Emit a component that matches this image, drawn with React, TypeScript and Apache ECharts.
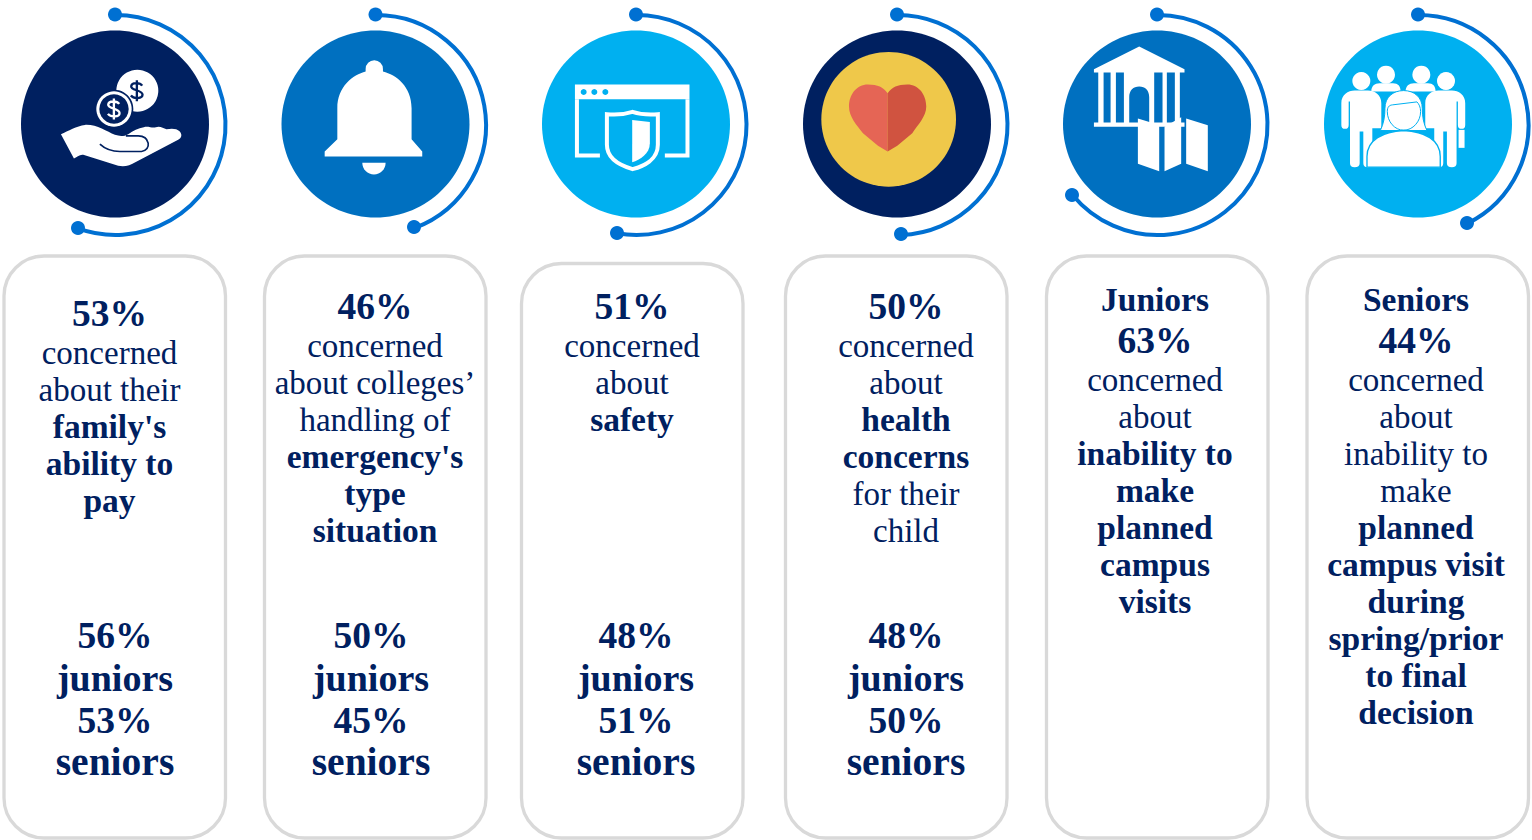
import React, { useEffect, useRef } from "react";
import * as echarts from "echarts";

// ---------- content ----------
const card1Lines = ["53%", "concerned", "about their", "family's", "ability to", "pay"];
const card2Lines = ["46%", "concerned", "about colleges’", "handling of", "emergency's", "type", "situation"];
const card3Lines = ["51%", "concerned", "about", "safety"];
const card4Lines = ["50%", "concerned", "about", "health", "concerns", "for their", "child"];
const card5Lines = ["Juniors", "63%", "concerned", "about", "inability to", "make", "planned", "campus", "visits"];
const card6Lines = ["Seniors", "44%", "concerned", "about", "inability to", "make", "planned", "campus visit", "during", "spring/prior", "to final", "decision"];

const card1Kinds = ["big", "reg", "reg", "bold", "bold", "bold"];
const card2Kinds = ["big", "reg", "reg", "reg", "bold", "bold", "bold"];
const card3Kinds = ["big", "reg", "reg", "bold"];
const card4Kinds = ["big", "reg", "reg", "bold", "bold", "reg", "reg"];
const card5Kinds = ["bold", "big", "reg", "reg", "bold", "bold", "bold", "bold", "bold"];
const card6Kinds = ["bold", "big", "reg", "reg", "reg", "reg", "bold", "bold", "bold", "bold", "bold", "bold"];

const juniorsPct = ["56%", "50%", "48%", "48%"];
const seniorsPct = ["53%", "45%", "51%", "50%"];
const juniorsLabel = "juniors";
const seniorsLabel = "seniors";

// ---------- layout ----------
const NAVY = "#002060";
const BLUE = "#0070C0";
const SKY = "#00B0F0";
const ARC = "#0070D2";
const GREY = "#D9D9D9";
const FONT = "'Liberation Serif', serif";

const circleX = [115, 375.5, 636, 897, 1157, 1418];
const circleFill = [NAVY, BLUE, SKY, NAVY, BLUE, SKY];
const CY = 124;
const endDots = [[78, 228], [414, 227], [617, 233], [901, 234], [1072, 195], [1467, 223]];

const cardLeft = [4, 264.5, 521.5, 785.5, 1046.5, 1307];
const cardTop = [256, 256, 263.5, 256, 256, 256];
const CARD_W = 221.5;
const CARD_BOTTOM = 838;

const textX = [109.5, 375, 632, 906, 1155, 1416];
const textStart = [314, 307, 307, 307, 300, 300];
const statX = [115, 371, 636, 906];

const allLines = [card1Lines, card2Lines, card3Lines, card4Lines, card5Lines, card6Lines];
const allKinds = [card1Kinds, card2Kinds, card3Kinds, card4Kinds, card5Kinds, card6Kinds];

const kindStyle: Record<string, { fontSize: number; fontWeight: string; dy: number }> = {
  big: { fontSize: 37.5, fontWeight: "bold", dy: -1 },
  reg: { fontSize: 33, fontWeight: "normal", dy: -0.5 },
  bold: { fontSize: 33.5, fontWeight: "bold", dy: -1 },
};

// ---------- icon outlines (drawn in 3x crop space, scaled by 1/3) ----------
const paths: Record<string, string> = {
  hand: "M183,403 C205,393 230,378 255,375 C290,373 320,395 345,405 C360,410 372,410 385,403 C400,393 415,384 432,382 C445,378 458,386 468,382 C480,377 490,385 500,388 C515,386 530,385 540,395 C548,405 545,414 535,420 L405,488 C390,497 375,502 355,498 L250,465 C240,463 230,472 222,476 Z",
  thumb: "M300,433 C315,447 335,455 360,455 L425,455 C440,453 447,442 445,430 C442,415 430,408 415,408 L378,408",
  dollarA: "M427,257 C420,247 396,247 394,259 C392,272 428,270 428,284 C428,297 402,298 393,287 M411,241 L411,304",
  dollarB: "M358,312 C351,302 327,302 325,314 C323,327 359,325 359,339 C359,352 333,353 324,342 M342,296 L342,359",
  bellBody: "M1098,215 C1060,225 1013,260 1013,325 L1013,418 L975,455 L975,470 L1268,470 L1268,455 L1236,418 L1236,325 C1236,260 1190,225 1150,215 L1150,207 A26,26 0 1 0 1098,207 Z",
  bellClapper: "M1088,489 L1158,489 A35,35 0 0 1 1088,489 Z",
  windowBar: "M195,254 L539,254 L539,298 L195,298 Z",
  windowFrame: "M201,298 L201,467 L270,467 M533,298 L533,467 L465,467",
  shieldOutline: "M368,336 C340,345 315,345 291,343 L291,435 C291,480 340,500 368,508 C400,500 444,480 444,435 L444,343 C420,345 395,345 368,336 Z",
  shieldHalf: "M367,360 L420,366 L420,430 C420,462 390,480 367,487 Z",
  heartL: "M1134,455 L1134,280 C1120,262 1105,254 1075,254 C1040,254 1018,285 1018,320 C1018,350 1040,375 1060,400 L1105,438 Z",
  heartR: "M1134,455 L1134,280 C1148,262 1163,254 1193,254 C1228,254 1250,285 1250,320 C1250,350 1225,375 1208,400 L1163,438 Z",
  building: "M222,208 L358,140 L494,208 L494,218 L480,218 L480,368 L494,368 L494,381 L222,381 L222,368 L235,368 L235,218 L222,218 Z",
  buildingGaps: "M251,218 L272,218 L272,368 L251,368 Z M288,218 L312,218 L312,368 L288,368 Z M328,368 L328,292 C328,272 340,260 358,260 C376,260 388,272 388,292 L388,368 Z M403,218 L428,218 L428,368 L403,368 Z M441,218 L465,218 L465,368 L441,368 Z",
  mapPanels: "M354,356 L418,375 L418,514 L354,492 Z M434,381 L484,352 L484,492 L434,514 Z M499,356 L564,376 L564,514 L499,492 Z",
  personL: "M965,310 C965,285 985,272 1005,272 L1045,272 C1065,272 1085,285 1085,310 L1085,385 L1058,385 L1058,490 Q1058,502 1044,502 Q1031,502 1031,490 L1031,395 L1020,395 L1020,490 Q1020,502 1005,502 Q991,502 991,490 L991,305 L987,305 L987,375 Q987,387 976,387 Q965,387 965,375 Z",
  personR: "M1337,310 C1337,285 1317,272 1297,272 L1257,272 C1237,272 1217,285 1217,310 L1217,385 L1244,385 L1244,490 Q1244,502 1258,502 Q1271,502 1271,490 L1271,395 L1282,395 L1282,490 Q1282,502 1297,502 Q1311,502 1311,490 L1311,305 L1315,305 L1315,375 Q1315,387 1326,387 Q1337,387 1337,375 Z",
  backs: "M1055,275 C1055,258 1065,250 1080,250 L1120,250 C1135,250 1143,258 1143,275 Z M1158,275 C1158,258 1168,250 1183,250 L1225,250 C1240,250 1248,258 1248,275 Z",
  centerBody: "M1042,502 L1042,470 C1042,420 1090,395 1152,392 C1215,395 1262,420 1262,470 L1262,502 Z",
  hair: "M1096,325 C1096,292 1120,272 1152,272 C1184,272 1208,292 1208,325 C1208,350 1212,372 1222,392 L1082,392 C1092,372 1096,350 1096,325 Z",
  face: "M1192,306 L1118,315 C1108,316 1103,322 1103,335 C1103,365 1125,391 1152,391 C1180,391 1203,365 1203,335 C1203,322 1198,312 1192,306 Z",
  bag: "M1317,390 L1335,390 L1335,444 L1317,444 Z",
};
Object.entries(paths).forEach(([name, d]) => {
  echarts.graphic.registerShape("ic_" + name, echarts.graphic.extendPath(d, {}));
});

const ic = (name: string, ox: number, style: any) => ({
  type: "ic_" + name,
  x: ox,
  y: 0,
  scaleX: 1 / 3,
  scaleY: 1 / 3,
  style,
});
const dot = (ox: number, cx: number, cy: number, r: number, fill: string) => ({
  type: "circle",
  shape: { cx: ox + cx / 3, cy: cy / 3, r: r / 3 },
  style: { fill },
});

const icons = () => {
  const W = "#FFFFFF";
  return [
    // hand and coins
    dot(0, 412, 272, 63, W),
    ic("dollarA", 0, { fill: "none", stroke: NAVY, lineWidth: 7 }),
    dot(0, 342, 327, 58, NAVY),
    dot(0, 342, 327, 53, W),
    dot(0, 342, 327, 44, NAVY),
    ic("dollarB", 0, { fill: "none", stroke: W, lineWidth: 7 }),
    ic("hand", 0, { fill: W }),
    ic("thumb", 0, { fill: "none", stroke: NAVY, lineWidth: 5 }),
    // bell
    ic("bellBody", 0, { fill: W }),
    ic("bellClapper", 0, { fill: W }),
    // browser and shield
    ic("windowBar", 510, { fill: W }),
    dot(510, 221, 276, 9, SKY),
    dot(510, 253, 276, 9, SKY),
    dot(510, 286, 276, 9, SKY),
    ic("windowFrame", 510, { fill: "none", stroke: W, lineWidth: 12 }),
    ic("shieldOutline", 510, { fill: SKY, stroke: W, lineWidth: 12 }),
    ic("shieldHalf", 510, { fill: W }),
    // heart
    dot(510, 1136, 358, 202, "#EFC84A"),
    ic("heartL", 510, { fill: "#E56555" }),
    ic("heartR", 510, { fill: "#D05340" }),
    // building and map
    ic("building", 1020, { fill: W }),
    ic("buildingGaps", 1020, { fill: BLUE }),
    ic("mapPanels", 1020, { fill: W }),
    // people
    dot(1020, 1098, 224, 27, W),
    dot(1020, 1204, 224, 27, W),
    ic("backs", 1020, { fill: W }),
    dot(1020, 1024, 243, 27, W),
    dot(1020, 1278, 243, 27, W),
    ic("personL", 1020, { fill: W }),
    ic("personR", 1020, { fill: W }),
    ic("bag", 1020, { fill: W }),
    ic("hair", 1020, { fill: W, stroke: SKY, lineWidth: 3 }),
    ic("face", 1020, { fill: W, stroke: SKY, lineWidth: 3 }),
    ic("centerBody", 1020, { fill: W, stroke: SKY, lineWidth: 4 }),
  ];
};

const text = (t: string, x: number, y: number, fontSize: number, fontWeight: string) => ({
  type: "text",
  x,
  y,
  style: {
    text: t,
    fill: NAVY,
    fontSize,
    fontWeight,
    fontFamily: FONT,
    textAlign: "center",
    textVerticalAlign: "middle",
  },
});

const buildGraphics = () => {
  const out: any[] = [];
  // cards
  cardLeft.forEach((x, i) => {
    out.push({
      type: "rect",
      shape: { x, y: cardTop[i], width: CARD_W, height: CARD_BOTTOM - cardTop[i], r: 40 },
      style: { fill: "#FFFFFF", stroke: GREY, lineWidth: 3.3 },
    });
  });
  // circles, arcs, end dots
  circleX.forEach((cx, i) => {
    out.push({ type: "ellipse", shape: { cx, cy: CY, rx: 94, ry: 93.5 }, style: { fill: circleFill[i] } });
    const acx = cx + 0.5;
    const acy = CY + 1;
    const [ex, ey] = endDots[i];
    const end = Math.atan2(ey - acy, ex - acx);
    out.push({
      type: "arc",
      shape: { cx: acx, cy: acy, r: 110, startAngle: -Math.PI / 2, endAngle: end, clockwise: true },
      style: { fill: "none", stroke: ARC, lineWidth: 4 },
    });
    out.push({ type: "circle", shape: { cx: cx, cy: 14.5, r: 7 }, style: { fill: ARC } });
    out.push({ type: "circle", shape: { cx: ex, cy: ey, r: 7 }, style: { fill: ARC } });
  });
  out.push(...icons());
  // card body text
  allLines.forEach((lines, i) => {
    let y = textStart[i];
    lines.forEach((line, j) => {
      const kind = allKinds[i][j];
      const s = kindStyle[kind];
      out.push(text(line, textX[i], y + s.dy, s.fontSize, s.fontWeight));
      const next = allKinds[i][j + 1];
      y += kind === "big" ? 39 : next === "big" ? 41 : 37;
    });
  });
  // juniors / seniors block
  statX.forEach((x, i) => {
    out.push(text(juniorsPct[i], x, 635, 37.5, "bold"));
    out.push(text(juniorsLabel, x, 678, 38, "bold"));
    out.push(text(seniorsPct[i], x, 720, 37.5, "bold"));
    out.push(text(seniorsLabel, x, 762, 39.5, "bold"));
  });
  return out;
};

export default function App() {
  const ref = useRef<HTMLDivElement>(null);
  useEffect(() => {
    document.body.style.margin = "0";
    const chart = echarts.init(ref.current!, undefined, { renderer: "svg" });
    chart.setOption({ animation: false, graphic: { elements: buildGraphics() } });
    return () => chart.dispose();
  }, []);
  return <div ref={ref} style={{ position: "absolute", left: 0, top: 0, width: 1532, height: 840, background: "#fff" }} />;
}
